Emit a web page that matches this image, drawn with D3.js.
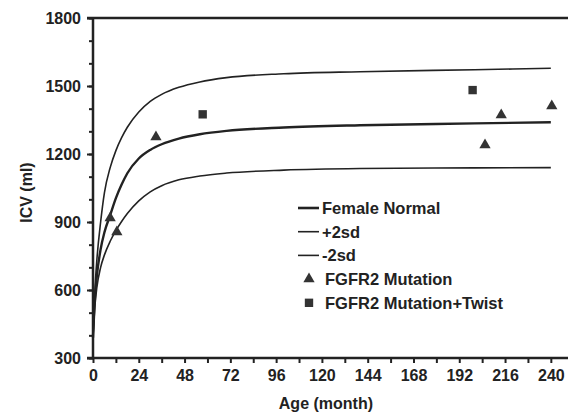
<!DOCTYPE html>
<html>
<head>
<meta charset="utf-8">
<script src="https://cdn.jsdelivr.net/npm/d3@7"></script>
<style>
  body { margin: 0; background: #fff; }
  text { font-family: "Liberation Sans", Arial, sans-serif; font-weight: bold; fill: #222; }
</style>
</head>
<body>
<div id="chart"></div>
<script>
// ages (months) at which the reference curves were read
const curveAges = [0, 1, 2, 4, 6, 9, 12, 15, 18, 24, 30, 36, 45, 56, 70, 100, 140, 200, 240]
const femaleNormal = [390, 560, 660, 780, 855, 930, 1005, 1065, 1115, 1180, 1218, 1243, 1268, 1287, 1302, 1317, 1327, 1335, 1340]
const plus2sd = [390, 600, 730, 900, 1030, 1140, 1215, 1272, 1318, 1385, 1432, 1463, 1494, 1518, 1537, 1554, 1563, 1572, 1578]
const minus2sd = [390, 530, 610, 700, 755, 815, 862, 902, 937, 993, 1033, 1060, 1086, 1103, 1116, 1129, 1136, 1139, 1140]

const mutationAges = [9, 12.5, 33, 205.5, 214, 240.5]
const mutationIcv = [918, 856, 1275, 1240, 1372, 1412]
const twistAges = [57.5, 199]
const twistIcv = [1375, 1482]

const xTicks = [0, 24, 48, 72, 96, 120, 144, 168, 192, 216, 240]
const yTicks = [300, 600, 900, 1200, 1500, 1800]

const legendLabels = ['Female Normal', '+2sd', '-2sd', 'FGFR2 Mutation', 'FGFR2 Mutation+Twist']

const W = 568, H = 414
const ink = '#222'

const svg = d3.select('#chart').append('svg')
  .attr('width', W)
  .attr('height', H)

const x = d3.scaleLinear().domain([0, 249]).range([93, 568])
const y = d3.scaleLinear().domain([300, 1800]).range([358, 18])

// y axis with minor ticks every 100
svg.append('g')
  .attr('transform', `translate(${x(0)},0)`)
  .call(d3.axisLeft(y).tickValues(d3.range(300, 1801, 100)).tickSize(4).tickFormat(''))
  .call(g => g.select('.domain').remove())
  .call(g => g.selectAll('line').attr('stroke', ink).attr('stroke-width', 2))

svg.append('g')
  .attr('transform', `translate(${x(0)},0)`)
  .call(d3.axisLeft(y).tickValues(yTicks).tickSize(6).tickPadding(6).tickFormat(d3.format('d')))
  .call(g => g.select('.domain').remove())
  .call(g => g.selectAll('line').attr('stroke', ink).attr('stroke-width', 2))
  .call(g => g.selectAll('text').attr('font-size', 16).attr('dy', '0.35em'))

// x axis, ticks every 12 months
svg.append('g')
  .attr('transform', `translate(0,${y(300)})`)
  .call(d3.axisBottom(x).tickValues(d3.range(0, 249, 12)).tickSize(5).tickFormat(''))
  .call(g => g.select('.domain').remove())
  .call(g => g.selectAll('line').attr('stroke', ink).attr('stroke-width', 2))

svg.append('g')
  .attr('transform', `translate(0,${y(300)})`)
  .call(d3.axisBottom(x).tickValues(xTicks).tickSize(0).tickPadding(12))
  .call(g => g.select('.domain').remove())
  .call(g => g.selectAll('text').attr('font-size', 16).attr('dy', '0.7em'))

// frame lines: left, bottom, top
svg.append('line')
  .attr('x1', x(0)).attr('x2', x(0)).attr('y1', y(1800)).attr('y2', y(300))
  .attr('stroke', ink).attr('stroke-width', 2.5)
svg.append('line')
  .attr('x1', x(0) - 6).attr('x2', W).attr('y1', y(300)).attr('y2', y(300))
  .attr('stroke', ink).attr('stroke-width', 2.5)
svg.append('line')
  .attr('x1', x(0) - 6).attr('x2', W).attr('y1', y(1800)).attr('y2', y(1800))
  .attr('stroke', ink).attr('stroke-width', 2.5)

// axis titles
svg.append('text')
  .attr('x', x(120) + 4).attr('y', 409)
  .attr('text-anchor', 'middle')
  .attr('font-size', 16)
  .text('Age (month)')

svg.append('text')
  .attr('transform', `translate(32,${y(1030)}) rotate(-90)`)
  .attr('text-anchor', 'middle')
  .attr('font-size', 16)
  .text('ICV (ml)')

// growth curves
const line = d3.line()
  .x((d, i) => x(curveAges[i]))
  .y(d => y(d))
  .curve(d3.curveMonotoneX)

const curves = [
  { values: femaleNormal, width: 2.4 },
  { values: plus2sd, width: 1.6 },
  { values: minus2sd, width: 1.6 }
]

svg.selectAll('.curve')
  .data(curves)
  .join('path')
  .attr('class', 'curve')
  .attr('d', d => line(d.values))
  .attr('fill', 'none')
  .attr('stroke', ink)
  .attr('stroke-width', d => d.width)

// patient points
const tri = d3.symbol().type(d3.symbolTriangle).size(55)
const sq = d3.symbol().type(d3.symbolSquare).size(70)

svg.selectAll('.mutation')
  .data(mutationAges)
  .join('path')
  .attr('class', 'mutation')
  .attr('transform', (d, i) => `translate(${x(d)},${y(mutationIcv[i])})`)
  .attr('d', tri)
  .attr('fill', '#333')

svg.selectAll('.twist')
  .data(twistAges)
  .join('path')
  .attr('class', 'twist')
  .attr('transform', (d, i) => `translate(${x(d)},${y(twistIcv[i])})`)
  .attr('d', sq)
  .attr('fill', '#333')

// legend
const legend = svg.append('g').attr('transform', 'translate(298,208)')
const rows = legend.selectAll('g')
  .data(legendLabels)
  .join('g')
  .attr('transform', (_, i) => `translate(0,${i * 23.7})`)

rows.filter((_, i) => i < 3)
  .append('line')
  .attr('x1', 0).attr('x2', 21)
  .attr('stroke', ink)
  .attr('stroke-width', (_, i) => i === 0 ? 2.6 : 1.6)

rows.filter((_, i) => i === 3)
  .append('path')
  .attr('transform', 'translate(11,0)')
  .attr('d', tri)
  .attr('fill', '#333')

rows.filter((_, i) => i === 4)
  .append('path')
  .attr('transform', 'translate(11,0)')
  .attr('d', sq)
  .attr('fill', '#333')

rows.append('text')
  .attr('x', (_, i) => i < 3 ? 24 : 27)
  .attr('dy', '0.36em')
  .attr('font-size', 16.5)
  .text(d => d)
</script>
</body>
</html>
